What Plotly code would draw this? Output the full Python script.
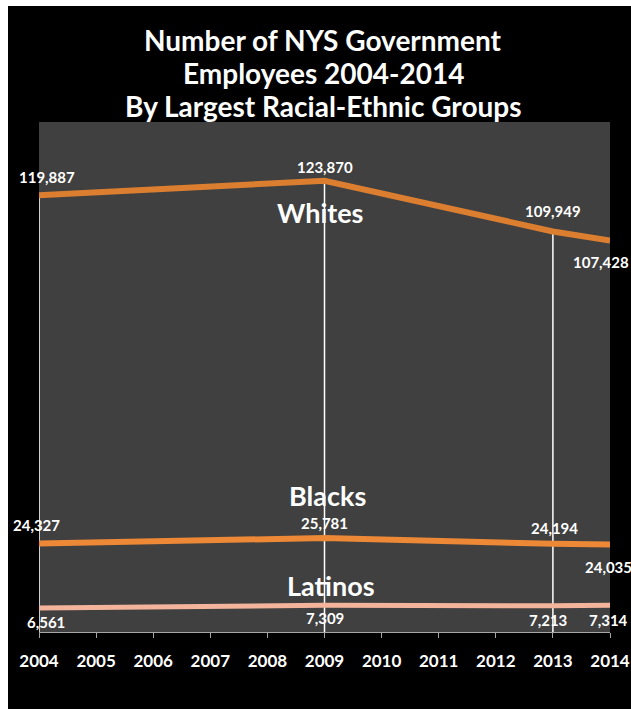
import plotly.graph_objects as go

years = [2004, 2009, 2013, 2014]
whites = [119887, 123870, 109949, 107428]
blacks = [24327, 25781, 24194, 24035]
latinos = [6561, 7309, 7213, 7314]
tick_years = list(range(2004, 2015))
series_names = ["Whites", "Blacks", "Latinos"]
title_lines = ["Number of NYS Government", "Employees 2004-2014", "By Largest Racial-Ethnic Groups"]

FONT = "Lato"
W, H = 631, 709
ML, MR, MT, MB = 39, 21, 122, 77
PW, PH = W - ML - MR, H - MT - MB

colors = {"Whites": "#DC7E2F", "Blacks": "#EC8836", "Latinos": "#F3B49B"}
widths = {"Whites": 6, "Blacks": 6, "Latinos": 5}
data = {"Whites": whites, "Blacks": blacks, "Latinos": latinos}

# label pixel offsets (xshift, yshift) per series per point
label_offsets = {
    "Whites": [(8, 18), (0, 14), (0, 20), (-9, -21)],
    "Blacks": [(-3, 18), (0, 15), (2, 16), (-2, -23)],
    "Latinos": [(7, -14), (0, -13), (-5, -14), (-2, -15)],
}
name_offsets = {"Whites": (-5, -32), "Blacks": (3, 43), "Latinos": (6, 20)}
title_pix_y = [40, 73, 106]

fig = go.Figure()

# black picture area (white border on left and top, as in the original image)
fig.add_shape(type="rect", xref="paper", yref="paper", x0=(8 - ML) / PW, x1=(W - ML + 5) / PW,
              y0=(-MB - 5) / PH, y1=(PH + MT - 6) / PH,
              fillcolor="black", line=dict(width=0), layer="below")
fig.add_shape(type="rect", xref="paper", yref="paper", x0=0, x1=1, y0=0, y1=1,
              fillcolor="#404040", line=dict(width=0), layer="below")

for name in series_names:
    fig.add_trace(go.Scatter(x=years, y=data[name], mode="lines", name=name,
                             line=dict(color=colors[name], width=widths[name]),
                             cliponaxis=False, hoverinfo="skip"))

# drop lines
for x, y in zip(years[:3], whites[:3]):
    fig.add_shape(type="line", xref="x", yref="y", x0=x, x1=x, y0=0, y1=y,
                  line=dict(color="white", width=1.5), layer="below")

annotations = []
for name in series_names:
    for i, (x, y) in enumerate(zip(years, data[name])):
        dx, dy = label_offsets[name][i]
        annotations.append(dict(x=x, y=y, xref="x", yref="y", text=f"{y:,}", showarrow=False,
                                xshift=dx, yshift=dy,
                                font=dict(family=FONT, size=15, color="white", weight="bold")))
    dx, dy = name_offsets[name]
    annotations.append(dict(x=2009, y=data[name][1], xref="x", yref="y", text=name, showarrow=False,
                            xshift=dx, yshift=dy,
                            font=dict(family=FONT, size=27, color="white", weight="bold")))

for line, py in zip(title_lines, title_pix_y):
    annotations.append(dict(x=(323 - ML) / PW, y=(H - MB - py) / PH, xref="paper", yref="paper",
                            text=line, showarrow=False, xanchor="center", yanchor="middle",
                            font=dict(family=FONT, size=28, color="white", weight="bold")))

fig.update_layout(
    width=W, height=H, autosize=False,
    margin=dict(l=ML, r=MR, t=MT, b=MB, pad=0),
    paper_bgcolor="white", plot_bgcolor="#404040",
    showlegend=False,
    xaxis=dict(range=[2004, 2014], tickmode="array", tickvals=tick_years, automargin=False,
               ticktext=[str(t) for t in tick_years], showgrid=False, zeroline=False,
               showline=True, linecolor="#A6A6A6", linewidth=1,
               ticks="outside", ticklen=5, tickcolor="#A6A6A6", ticklabelstandoff=9,
               tickfont=dict(family=FONT, size=17, color="white", weight="bold")),
    yaxis=dict(range=[0, 140000], visible=False, showgrid=False, zeroline=False, automargin=False),
    annotations=annotations,
)

fig.write_html("out.html", config={"displayModeBar": False})
